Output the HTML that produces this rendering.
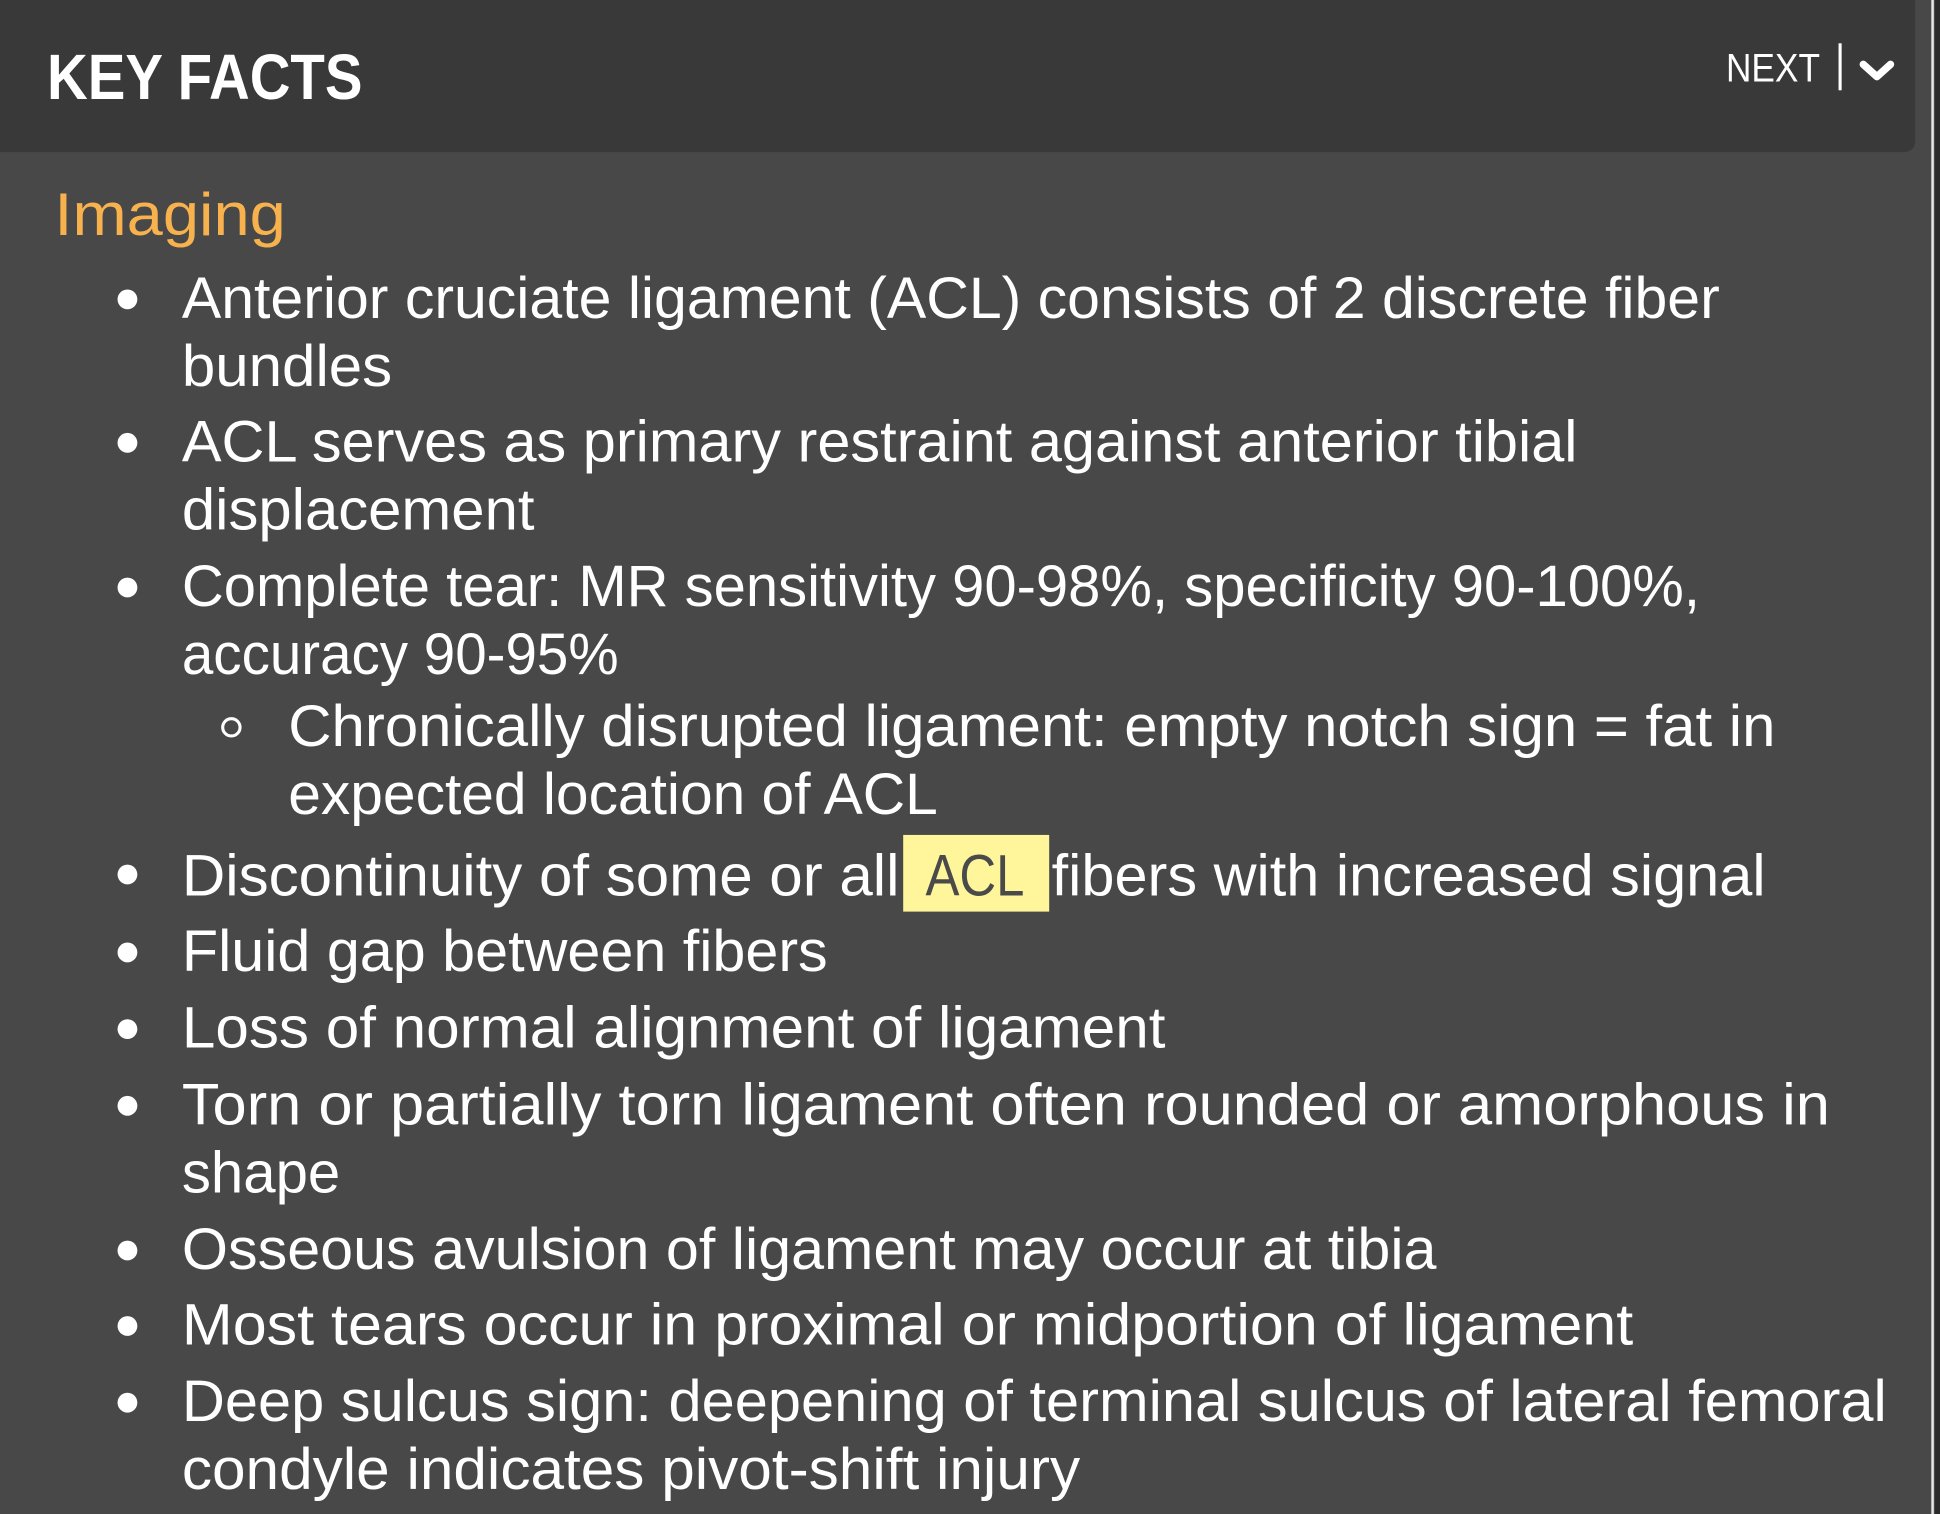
<!DOCTYPE html>
<html><head><meta charset="utf-8"><style>
html,body{margin:0;padding:0;background:#484848;}
svg{display:block;}
text{font-family:"Liberation Sans",sans-serif;}
</style></head><body>
<svg width="1940" height="1514" viewBox="0 0 1568 1224" preserveAspectRatio="none">
<rect x="0" y="0" width="1568" height="1224" fill="#484848"/>
<path d="M0 0 H1548 V113 Q1548 123 1538 123 H0 Z" fill="#393939"/>
<rect x="1561" y="0" width="2" height="1224" fill="#e8e8e8"/>
<rect x="1564" y="0" width="4" height="1224" fill="#2a2a2a"/>
<text x="38" y="80" font-size="52" font-weight="bold" fill="#ffffff" textLength="255" lengthAdjust="spacingAndGlyphs">KEY FACTS</text>
<text x="1395" y="66" font-size="32" fill="#ffffff" textLength="76" lengthAdjust="spacingAndGlyphs">NEXT</text>
<rect x="1486" y="35" width="2.5" height="38" fill="#ffffff"/>
<path d="M1506 52 L1517 62 L1528 52" stroke="#ffffff" stroke-width="6" fill="none" stroke-linecap="round" stroke-linejoin="round"/>
<text x="44" y="190" font-size="49" fill="#f7b24e" textLength="187" lengthAdjust="spacingAndGlyphs">Imaging</text>
<g fill="#ffffff" font-size="47">
<circle cx="103" cy="242" r="8"/>
<text x="147" y="257" textLength="1243" lengthAdjust="spacingAndGlyphs">Anterior cruciate ligament (ACL) consists of 2 discrete fiber</text>
<text x="147" y="312" textLength="170" lengthAdjust="spacingAndGlyphs">bundles</text>
<circle cx="103" cy="358" r="8"/>
<text x="147" y="373" textLength="1128" lengthAdjust="spacingAndGlyphs">ACL serves as primary restraint against anterior tibial</text>
<text x="147" y="428" textLength="285" lengthAdjust="spacingAndGlyphs">displacement</text>
<circle cx="103" cy="475" r="8"/>
<text x="147" y="490" textLength="1227" lengthAdjust="spacingAndGlyphs">Complete tear: MR sensitivity 90-98%, specificity 90-100%,</text>
<text x="147" y="545" textLength="353" lengthAdjust="spacingAndGlyphs">accuracy 90-95%</text>
<circle cx="187" cy="588" r="7" fill="none" stroke="#ffffff" stroke-width="2.5"/>
<text x="233" y="603" textLength="1202" lengthAdjust="spacingAndGlyphs">Chronically disrupted ligament: empty notch sign = fat in</text>
<text x="233" y="658" textLength="525" lengthAdjust="spacingAndGlyphs">expected location of ACL</text>
<circle cx="103" cy="707" r="8"/>
<text x="147" y="724" textLength="580" lengthAdjust="spacingAndGlyphs">Discontinuity of some or all</text>
<rect x="730" y="675" width="118" height="62" fill="#fff59a"/>
<text x="748" y="724" fill="#4a4a4a" textLength="80" lengthAdjust="spacingAndGlyphs">ACL</text>
<text x="850" y="724" textLength="577" lengthAdjust="spacingAndGlyphs">fibers with increased signal</text>
<circle cx="103" cy="770" r="8"/>
<text x="147" y="785" textLength="522" lengthAdjust="spacingAndGlyphs">Fluid gap between fibers</text>
<circle cx="103" cy="832" r="8"/>
<text x="147" y="847" textLength="795" lengthAdjust="spacingAndGlyphs">Loss of normal alignment of ligament</text>
<circle cx="103" cy="894" r="8"/>
<text x="147" y="909" textLength="1332" lengthAdjust="spacingAndGlyphs">Torn or partially torn ligament often rounded or amorphous in</text>
<text x="147" y="964" textLength="128" lengthAdjust="spacingAndGlyphs">shape</text>
<circle cx="103" cy="1011" r="8"/>
<text x="147" y="1026" textLength="1014" lengthAdjust="spacingAndGlyphs">Osseous avulsion of ligament may occur at tibia</text>
<circle cx="103" cy="1072" r="8"/>
<text x="147" y="1087" textLength="1173" lengthAdjust="spacingAndGlyphs">Most tears occur in proximal or midportion of ligament</text>
<circle cx="103" cy="1134" r="8"/>
<text x="147" y="1149" textLength="1378" lengthAdjust="spacingAndGlyphs">Deep sulcus sign: deepening of terminal sulcus of lateral femoral</text>
<text x="147" y="1204" textLength="726" lengthAdjust="spacingAndGlyphs">condyle indicates pivot-shift injury</text>
</g>
</svg>
</body></html>
